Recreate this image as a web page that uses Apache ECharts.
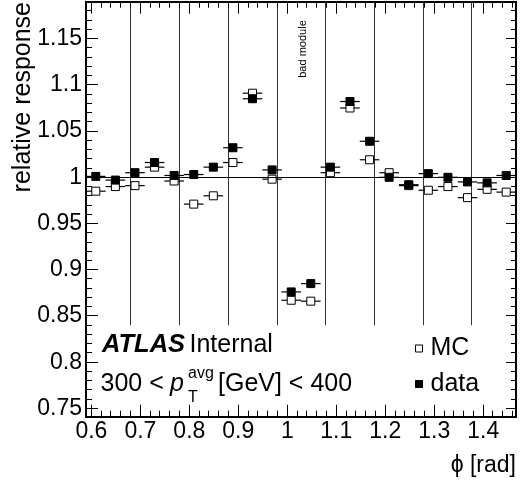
<!DOCTYPE html>
<html><head><meta charset="utf-8">
<script src="https://cdn.jsdelivr.net/npm/echarts@6/dist/echarts.min.js"></script>
<style>html,body{margin:0;padding:0;background:#fff}#c{width:522px;height:488px}</style>
</head><body><div id="c"></div><script>
// ---- data ----
const phiCenters = [0.609,0.649,0.689,0.729,0.769,0.809,0.849,0.889,0.929,0.969,1.008,1.048,1.088,1.128,1.168,1.208,1.248,1.288,1.328,1.368,1.408,1.447];
const binHalfWidth = 0.02;
const mcResponse = [0.985,0.990,0.991,1.011,0.996,0.971,0.980,1.016,1.091,0.998,0.867,0.866,1.005,1.075,1.019,1.005,0.991,0.986,0.990,0.978,0.987,0.984];
const dataResponse = [1.001,0.997,1.005,1.016,1.002,1.003,1.011,1.032,1.085,1.008,0.876,0.885,1.011,1.082,1.039,1.000,0.992,1.004,1.000,0.995,0.994,1.002];
const moduleBoundaries = [0.679,0.779,0.880,0.979,1.079,1.179,1.278,1.377];
const moduleLineBottom = 0.84;
const referenceLevel = 1;
const xMin = 0.589, xMax = 1.467;
const yMin = 0.741, yMax = 1.19;
const xTickLabels = [0.6,0.7,0.8,0.9,1,1.1,1.2,1.3,1.4];
const yTickLabels = [0.75,0.8,0.85,0.9,0.95,1,1.05,1.1,1.15];
const xMinorTicks = [];
for (let i = 0; i <= 43; i++) xMinorTicks.push(+(0.6 + 0.02 * i).toFixed(2));
const yMinorTicks = [];
for (let i = 0; i <= 43; i++) yMinorTicks.push(+(0.75 + 0.01 * i).toFixed(2));

const FONT = "'Liberation Sans', Arial, Helvetica, sans-serif";
const chart = echarts.init(document.getElementById('c'), null, {renderer: 'canvas'});

function crisp(v) { return Math.round(v - 0.5) + 0.5; }

function pointRenderer(filled) {
  return function (params, api) {
    const x = api.value(0), y = api.value(1);
    const c = api.coord([x, y]);
    const l = api.coord([x - binHalfWidth, y]);
    const r = api.coord([x + binHalfWidth, y]);
    const s = 8;
    return {type: 'group', children: [
      {type: 'line', shape: {x1: l[0], y1: c[1], x2: r[0], y2: c[1]}, style: {stroke: '#000', lineWidth: 1.2}},
      {type: 'rect', shape: {x: c[0] - s / 2, y: c[1] - s / 2, width: s, height: s},
       style: {fill: filled ? '#000' : '#fff', stroke: '#000', lineWidth: 1}}
    ]};
  };
}

// inward axis ticks on all four frame sides, positioned through the axis scales.
// Each item is anchored at an interior point (so it is never culled at the boundary).
function tickSeries(values, dim, lenA, lenB) {
  return {
    type: 'custom', xAxisIndex: 0, yAxisIndex: 0, silent: true, z: 6, clip: false,
    data: values.map(v => dim === 'x' ? [v, referenceLevel] : [referenceLevel, v]),
    renderItem: function (params, api) {
      if (dim === 'x') {
        const v = api.value(0);
        const b = api.coord([v, yMin]), t = api.coord([v, yMax]);
        const x = crisp(b[0]);
        return {type: 'group', children: [
          {type: 'line', shape: {x1: x, y1: b[1], x2: x, y2: b[1] - lenA}, style: {stroke: '#000', lineWidth: 1}},
          {type: 'line', shape: {x1: x, y1: t[1], x2: x, y2: t[1] + lenB}, style: {stroke: '#000', lineWidth: 1}}
        ]};
      }
      const v = api.value(1);
      const l = api.coord([xMin, v]), r = api.coord([xMax, v]);
      const y = crisp(l[1]);
      return {type: 'group', children: [
        {type: 'line', shape: {x1: l[0], y1: y, x2: l[0] + lenA, y2: y}, style: {stroke: '#000', lineWidth: 1}},
        {type: 'line', shape: {x1: r[0], y1: y, x2: r[0] - lenB, y2: y}, style: {stroke: '#000', lineWidth: 1}}
      ]};
    }
  };
}

function xAxisDef(pos) {
  return {
    type: 'value', position: pos, min: xMin, max: xMax, gridIndex: 0,
    axisLine: {show: true, onZero: false, lineStyle: {color: '#000', width: 2}},
    axisTick: {show: false},
    axisLabel: pos === 'bottom' ?
      {show: true, customValues: xTickLabels, fontSize: 23, fontFamily: FONT, color: '#000', margin: 3} : {show: false},
    splitLine: {show: false}, minorTick: {show: false}
  };
}
function yAxisDef(pos) {
  return {
    type: 'value', position: pos, min: yMin, max: yMax, gridIndex: 0,
    axisLine: {show: true, onZero: false, lineStyle: {color: '#000', width: 2}},
    axisTick: {show: false},
    axisLabel: pos === 'left' ?
      {show: true, customValues: yTickLabels, fontSize: 23, fontFamily: FONT, color: '#000', margin: 4} : {show: false},
    splitLine: {show: false}, minorTick: {show: false}
  };
}

const textGraphics = [
  {type: 'text', x: 23, y: 2, rotation: Math.PI / 2, z: 10,
   style: {text: 'relative response', font: '25px ' + FONT, fill: '#000', align: 'right', verticalAlign: 'middle'}},
  {type: 'text', x: 516, y: 466, z: 10,
   style: {text: 'ϕ [rad]', font: '23px ' + FONT, fill: '#000', align: 'right', verticalAlign: 'middle'}},
  {type: 'text', x: 302.5, y: 49, rotation: Math.PI / 2, z: 10,
   style: {text: 'bad module', font: '11px ' + FONT, fill: '#000', align: 'center', verticalAlign: 'middle'}},
  {type: 'text', x: 102, y: 345, z: 10,
   style: {text: 'ATLAS', font: 'italic bold 25.5px ' + FONT, fill: '#000', align: 'left', verticalAlign: 'middle'}},
  {type: 'text', x: 189.5, y: 345, z: 10,
   style: {text: 'Internal', font: '25px ' + FONT, fill: '#000', align: 'left', verticalAlign: 'middle'}},
  {type: 'text', x: 100.5, y: 384, z: 10,
   style: {text: '300 <', font: '25px ' + FONT, fill: '#000', align: 'left', verticalAlign: 'middle'}},
  {type: 'text', x: 170, y: 384, z: 10,
   style: {text: 'p', font: 'italic 25px ' + FONT, fill: '#000', align: 'left', verticalAlign: 'middle'}},
  {type: 'text', x: 188, y: 373.5, z: 10,
   style: {text: 'avg', font: '16px ' + FONT, fill: '#000', align: 'left', verticalAlign: 'middle'}},
  {type: 'text', x: 188, y: 397.5, z: 10,
   style: {text: 'T', font: '16px ' + FONT, fill: '#000', align: 'left', verticalAlign: 'middle'}},
  {type: 'text', x: 218, y: 384, z: 10,
   style: {text: '[GeV] < 400', font: '25px ' + FONT, fill: '#000', align: 'left', verticalAlign: 'middle'}}
];

const option = {
  animation: false,
  backgroundColor: '#fff',
  grid: {left: 86, right: 6, top: 1.7, bottom: 71.3, containLabel: false, outerBoundsMode: 'none'},
  xAxis: [xAxisDef('bottom'), xAxisDef('top')],
  yAxis: [yAxisDef('left'), yAxisDef('right')],
  legend: [
    {show: true, left: 415, top: 336, padding: 0, itemWidth: 7, itemHeight: 7, icon: 'rect', selectedMode: false,
     data: [{name: 'MC', itemStyle: {color: '#fff', borderColor: '#000', borderWidth: 1}}],
     textStyle: {fontSize: 25, fontFamily: FONT, color: '#000', padding: [0, 0, 0, 3]}},
    {show: true, left: 415, top: 371.5, padding: 0, itemWidth: 7, itemHeight: 7, icon: 'rect', selectedMode: false,
     data: [{name: 'data', itemStyle: {color: '#000', borderColor: '#000', borderWidth: 1}}],
     textStyle: {fontSize: 25, fontFamily: FONT, color: '#000', padding: [0, 0, 0, 3]}}
  ],
  series: [
    {
      type: 'custom', name: 'modules', xAxisIndex: 0, yAxisIndex: 0, silent: true,
      data: moduleBoundaries.map(x => [x, moduleLineBottom]),
      renderItem: function (params, api) {
        const p1 = api.coord([api.value(0), api.value(1)]);
        const p2 = api.coord([api.value(0), yMax]);
        const x = crisp(p1[0]);
        return {type: 'line', shape: {x1: x, y1: p1[1], x2: x, y2: p2[1]}, style: {stroke: '#333', lineWidth: 1}};
      },
      markLine: {silent: true, symbol: 'none', label: {show: false},
        lineStyle: {color: '#000', width: 1, type: 'solid'}, data: [{yAxis: referenceLevel}]}
    },
    {type: 'custom', name: 'MC', xAxisIndex: 0, yAxisIndex: 0, itemStyle: {color: '#fff', borderColor: '#000'},
     data: phiCenters.map((x, i) => [x, mcResponse[i]]), renderItem: pointRenderer(false), z: 3},
    {type: 'custom', name: 'data', xAxisIndex: 0, yAxisIndex: 0, itemStyle: {color: '#000'},
     data: phiCenters.map((x, i) => [x, dataResponse[i]]), renderItem: pointRenderer(true), z: 4},
    tickSeries(xMinorTicks, 'x', 6, 6),
    tickSeries(xTickLabels, 'x', 12, 12),
    tickSeries(yMinorTicks, 'y', 6, 5),
    tickSeries(yTickLabels, 'y', 12, 10)
  ],
  graphic: textGraphics
};
chart.setOption(option);
</script></body></html>
